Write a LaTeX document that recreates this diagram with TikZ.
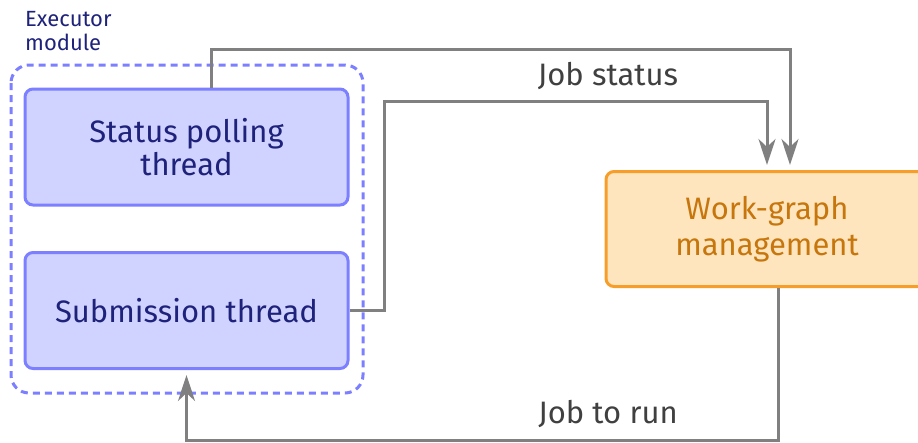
\documentclass[tikz,border=0pt]{standalone}
\usepackage{fontspec}
\setmainfont{Fira Sans}
\usetikzlibrary{arrows.meta,calc}
\definecolor{bluefill}{RGB}{208,211,255}
\definecolor{bluedraw}{RGB}{124,127,255}
\definecolor{navytext}{RGB}{30,34,122}
\definecolor{orfill}{RGB}{255,229,189}
\definecolor{ordraw}{RGB}{247,158,42}
\definecolor{ortext}{RGB}{198,118,12}
\definecolor{arrgray}{RGB}{128,128,128}
\definecolor{labgray}{RGB}{64,64,64}
\tikzset{
  bluebox/.style={draw=bluedraw, fill=bluefill, line width=3pt, rounded corners=8pt,
    minimum width=323pt, minimum height=116pt, text=navytext, align=center,
    font=\fontsize{31}{33}\selectfont, inner sep=0pt},
  orbox/.style={draw=ordraw, fill=orfill, line width=3pt, rounded corners=8pt,
    minimum width=322pt, minimum height=115pt, text=ortext, align=center,
    font=\fontsize{31}{36}\selectfont, inner sep=0pt},
  modbox/.style={draw=bluedraw, line width=3pt, dash pattern=on 7pt off 5pt, rounded corners=18pt},
  arr/.style={draw=arrgray, line width=3pt, -{Stealth[length=26pt, width=17pt, inset=8pt]}},
  lab/.style={text=labgray, font=\fontsize{31}{34}\selectfont, inner sep=0pt},
  modlab/.style={text=navytext, font=\fontsize{22}{24}\selectfont, align=left, inner sep=0pt, anchor=north west}
}
\begin{document}
\begin{tikzpicture}[x=1pt, y=-1pt]
\useasboundingbox (0,0) rectangle (918,442);
\node[modlab] (ml) at (25,11) {Executor\\module};
\draw[modbox] (11,65) rectangle (363,393);
\node[bluebox] (sp) at (186.5,147) {Status polling\\thread};
\node[bluebox] (sub) at (186.5,310.5) {Submission thread};
\node[orbox] (wg) at (767,229) {Work-graph\\management};
\coordinate (c1) at (384,101);
\coordinate (c2) at (790,49);
\coordinate (c3) at (778,440);
\draw[arr, shorten >=5pt] ([xshift=24.5pt]sp.north) |- (c2) -- ([xshift=23pt]wg.north);
\draw[arr, shorten >=5pt] (sub.east) -| (c1) -| (wg.north);
\draw[arr, shorten >=5pt] ([xshift=11pt]wg.south) -- (c3) -| (sub.south);
\node[lab] (js) at (608,76) {Job status};
\node[lab] (jr) at (608,414) {Job to run};
\end{tikzpicture}
\end{document}
